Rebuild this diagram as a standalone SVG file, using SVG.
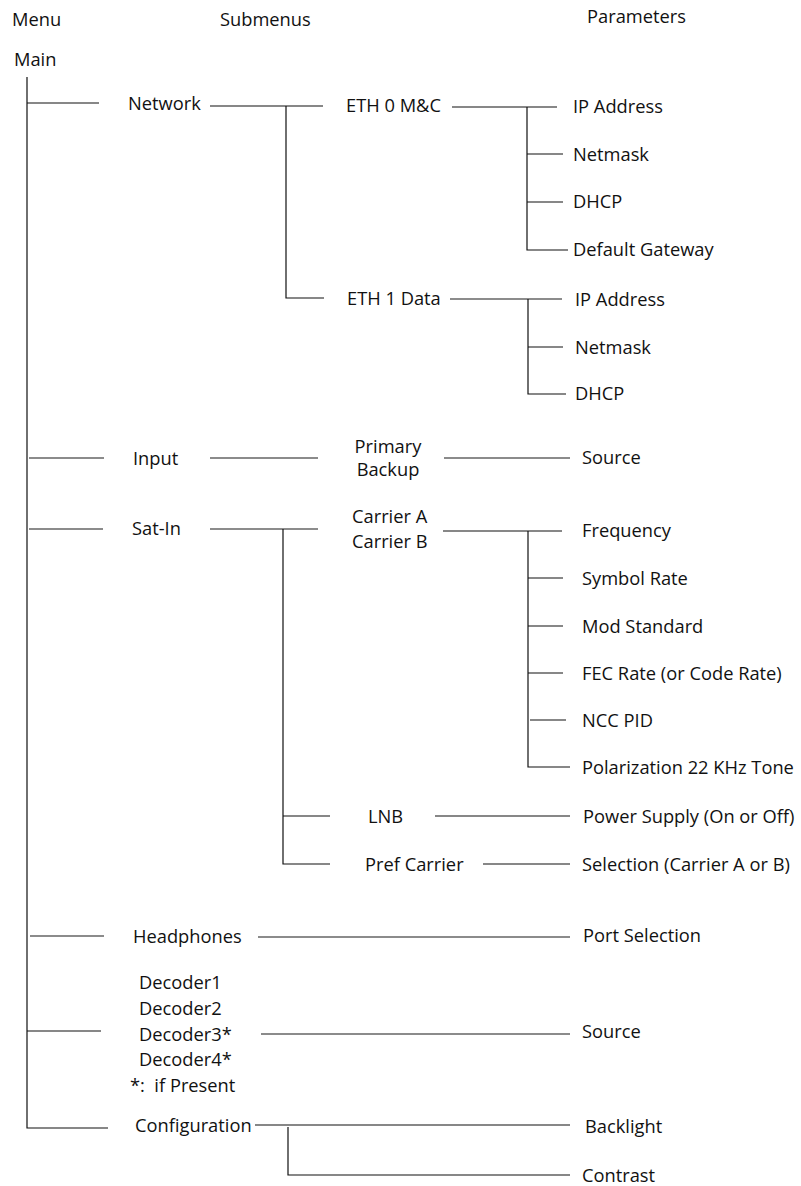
<svg xmlns="http://www.w3.org/2000/svg" width="801" height="1186" viewBox="0 0 801 1186">
<style>
text{font-family:"Open Sans","Noto Sans","Liberation Sans",sans-serif;font-size:18.3px;fill:#111;white-space:pre}
.k{stroke:#111;stroke-width:1.2;fill:none}
.g{stroke:#666;stroke-width:1.6;fill:none}
.m{text-anchor:middle}
</style>
<rect width="801" height="1186" fill="#fff"/>
<g id="headers">
<text x="12" y="26">Menu</text>
<text x="220" y="26">Submenus</text>
<text x="587" y="23">Parameters</text>
</g>
<g id="connectors">
<path class="k" d="M27 77V1128H108"/>
<path class="k" d="M27 103H99"/>
<path class="g" d="M29 458H104M29 529H103M30 936H104"/>
<path class="k" d="M27 1031H101"/>
<path class="k" d="M210 106H323M286 106V298H324"/>
<path class="k" d="M452 107H557M527 107V250H568M527 154H563M527 202H563"/>
<path class="g" d="M450 299H562"/>
<path class="k" d="M528 299V394H566M528 347H563"/>
<path class="g" d="M210 458H318M444 458H570"/>
<path class="g" d="M210 529H318"/>
<path class="k" d="M283 529V864H330M283 816H330"/>
<path class="k" d="M443 531H562M528 531V767H570M528 578H563M528 626H563M528 673H563M530 720H566"/>
<path class="k" d="M435 816H570M483 864H570"/>
<path class="g" d="M258 937H570M261 1034H570"/>
<path class="k" d="M255 1125H570M288 1127V1175H570"/>
</g>
<g id="main"><text x="14" y="66">Main</text></g>
<g id="network"><text x="128" y="110">Network</text></g>
<g id="eth0"><text x="346" y="112">ETH 0 M&amp;C</text></g>
<g id="eth0-ip"><text x="573" y="113">IP Address</text></g>
<g id="eth0-netmask"><text x="573" y="161">Netmask</text></g>
<g id="eth0-dhcp"><text x="573" y="208">DHCP</text></g>
<g id="eth0-gw"><text x="573" y="256">Default Gateway</text></g>
<g id="eth1"><text x="347" y="305">ETH 1 Data</text></g>
<g id="eth1-ip"><text x="575" y="306">IP Address</text></g>
<g id="eth1-netmask"><text x="575" y="354">Netmask</text></g>
<g id="eth1-dhcp"><text x="575" y="400">DHCP</text></g>
<g id="input"><text x="133" y="465">Input</text></g>
<g id="primary-backup"><text class="m" x="388" y="453">Primary</text><text class="m" x="388" y="476">Backup</text></g>
<g id="input-source"><text x="582" y="464">Source</text></g>
<g id="satin"><text x="132" y="535">Sat-In</text></g>
<g id="carrier"><text x="352" y="523">Carrier A</text><text x="352" y="548">Carrier B</text></g>
<g id="frequency"><text x="582" y="537">Frequency</text></g>
<g id="symbol-rate"><text x="582" y="585">Symbol Rate</text></g>
<g id="mod-standard"><text x="582" y="633">Mod Standard</text></g>
<g id="fec-rate"><text x="582" y="680">FEC Rate (or Code Rate)</text></g>
<g id="ncc-pid"><text x="582" y="727">NCC PID</text></g>
<g id="polarization"><text x="582" y="774">Polarization 22 KHz Tone</text></g>
<g id="lnb"><text x="368" y="823">LNB</text></g>
<g id="pref-carrier"><text x="365" y="871">Pref Carrier</text></g>
<g id="power-supply"><text x="583" y="823">Power Supply (On or Off)</text></g>
<g id="selection"><text x="582" y="871">Selection (Carrier A or B)</text></g>
<g id="headphones"><text x="133" y="943">Headphones</text></g>
<g id="port-selection"><text x="583" y="942">Port Selection</text></g>
<g id="decoders">
<text x="139" y="989">Decoder1</text>
<text x="139" y="1015">Decoder2</text>
<text x="139" y="1041">Decoder3*</text>
<text x="139" y="1066">Decoder4*</text>
<text x="130" y="1092">*:  if Present</text>
</g>
<g id="decoder-source"><text x="582" y="1038">Source</text></g>
<g id="configuration"><text x="135" y="1132">Configuration</text></g>
<g id="backlight"><text x="585" y="1133">Backlight</text></g>
<g id="contrast"><text x="582" y="1182">Contrast</text></g>
</svg>
